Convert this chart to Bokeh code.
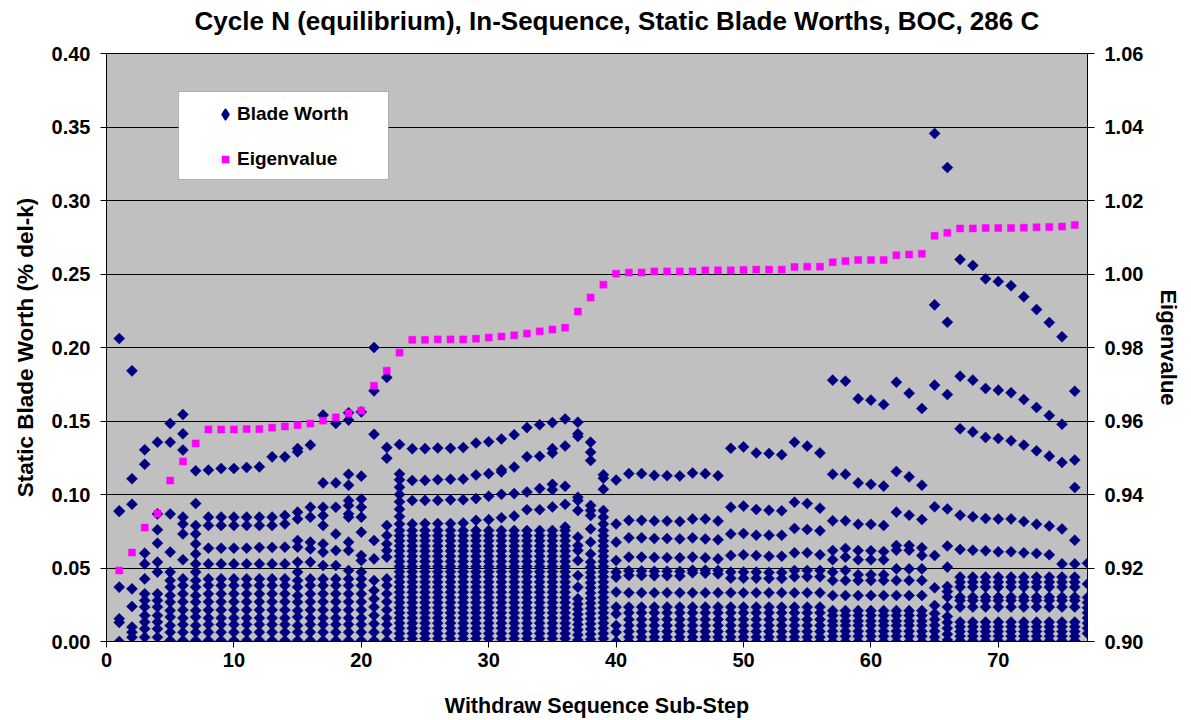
import math
from bokeh.plotting import figure
from bokeh.models import (Range1d, LinearAxis, FixedTicker, PrintfTickFormatter,
                          Legend, LegendItem, BoxAnnotation, ColumnDataSource, Label)
from bokeh.embed import file_html
from bokeh.resources import INLINE

# ---------------- data ----------------
title_text = "Cycle N (equilibrium), In-Sequence, Static Blade Worths, BOC,  286 C"
x_ticks = [0, 10, 20, 30, 40, 50, 60, 70]
left_ticks = [0.00, 0.05, 0.10, 0.15, 0.20, 0.25, 0.30, 0.35, 0.40]
right_ticks = [0.90, 0.92, 0.94, 0.96, 0.98, 1.00, 1.02, 1.04, 1.06]

eigen_steps = list(range(1, 77))
eigenvalue = [0.9193, 0.9242, 0.9310, 0.9348, 0.9438, 0.9490, 0.9539, 0.9577, 0.9577, 0.9577,
              0.9578, 0.9578, 0.9582, 0.9585, 0.9589, 0.9593, 0.9601, 0.9610, 0.9621, 0.9628,
              0.9696, 0.9737, 0.9786, 0.9821, 0.9821, 0.9822, 0.9822, 0.9822, 0.9824, 0.9827,
              0.9830, 0.9833, 0.9838, 0.9844, 0.9849, 0.9854, 0.9898, 0.9936, 0.9971, 1.0001,
              1.0004, 1.0004, 1.0007, 1.0007, 1.0007, 1.0007, 1.0010, 1.0010, 1.0010, 1.0011,
              1.0012, 1.0012, 1.0012, 1.0019, 1.0020, 1.0020, 1.0032, 1.0035, 1.0038, 1.0038,
              1.0038, 1.0051, 1.0053, 1.0055, 1.0104, 1.0112, 1.0124, 1.0124, 1.0125, 1.0125,
              1.0125, 1.0126, 1.0127, 1.0128, 1.0129, 1.0133]

# dense low clusters shared by several sub-steps
tail_a = [0.0324, 0.0279, 0.0234, 0.0177, 0.0132, 0.0086, 0.0029]
tail_b = [0.0426, 0.0381, 0.0324, 0.0270, 0.0215, 0.0160, 0.0115, 0.0063, 0.0007]
tail_c = [0.0472, 0.0415, 0.0370, 0.0313, 0.0268, 0.0211, 0.0166, 0.0109, 0.0063, 0.0007]
tail_d = [0.0755, 0.0720, 0.0685, 0.0650, 0.0615, 0.0580, 0.0545, 0.0510, 0.0475, 0.0440,
          0.0405, 0.0370, 0.0335, 0.0300, 0.0265, 0.0230, 0.0195, 0.0160, 0.0125, 0.0090,
          0.0055, 0.0020]
tail_e = [0.0331, 0.0234, 0.0195, 0.0150, 0.0109, 0.0068, 0.0030, 0.0000]
tail_f = [0.0313, 0.0210, 0.0177, 0.0140, 0.0109, 0.0070, 0.0035, 0.0000]
tail_g = [0.0438, 0.0404, 0.0370, 0.0302, 0.0279, 0.0234, 0.0132, 0.0100, 0.0068, 0.0036, 0.0005]

worth_steps_01_10 = [
    [0.2061, 0.0889, 0.0884, 0.0370, 0.0155, 0.0130, 0.0000],
    [0.1841, 0.1107, 0.0934, 0.0358, 0.0238, 0.0098, 0.0063, 0.0029],
    [0.1304, 0.1206, 0.0601, 0.0528, 0.0426] + tail_a,
    [0.1356, 0.0868, 0.0760, 0.0669, 0.0540, 0.0472] + tail_a,
    [0.1483, 0.1356, 0.0868, 0.0608] + tail_c,
    [0.1544, 0.1413, 0.1302, 0.0846, 0.0800, 0.0732, 0.0556] + tail_b,
    [0.1161, 0.0939, 0.0789, 0.0732, 0.0664, 0.0596, 0.0528] + tail_c,
    [0.1166, 0.0846, 0.0789, 0.0635, 0.0528] + tail_b,
    [0.1177, 0.0846, 0.0789, 0.0635, 0.0528] + tail_b,
    [0.1177, 0.0846, 0.0789, 0.0635, 0.0528] + tail_b,
]
worth_steps_11_20 = [
    [0.1184, 0.0846, 0.0789, 0.0635, 0.0528] + tail_b,
    [0.1188, 0.0846, 0.0789, 0.0640, 0.0528] + tail_b,
    [0.1256, 0.0846, 0.0789, 0.0640, 0.0528] + tail_b,
    [0.1256, 0.0857, 0.0800, 0.0642, 0.0528] + tail_b,
    [0.1313, 0.1290, 0.0880, 0.0834, 0.0687, 0.0642, 0.0540] + tail_c,
    [0.1336, 0.0914, 0.0846, 0.0676, 0.0630, 0.0540] + tail_b,
    [0.1540, 0.1079, 0.0914, 0.0857, 0.0789, 0.0664, 0.0608, 0.0517] + tail_b,
    [0.1483, 0.1079, 0.0914, 0.0732, 0.0619, 0.0517] + tail_b,
    [0.1556, 0.1506, 0.1138, 0.1063, 0.0959, 0.0925, 0.0868, 0.0846, 0.0676, 0.0619, 0.0483] + tail_b,
    [0.1562, 0.1125, 0.0970, 0.0914, 0.0846, 0.0744, 0.0585, 0.0551, 0.0472] + tail_b,
]
worth_steps_21_30 = [
    [0.2000, 0.1705, 0.1410, 0.0687, 0.0562, 0.0415, 0.0347, 0.0290, 0.0234, 0.0177, 0.0120, 0.0063, 0.0007],
    [0.1796, 0.1320, 0.1247, 0.0789, 0.0721, 0.0664, 0.0619, 0.0574] + tail_b,
    [0.1340, 0.1140, 0.1100, 0.1050, 0.1000, 0.0950, 0.0900, 0.0850, 0.0800] + tail_d,
    [0.1311, 0.1095, 0.0959, 0.0800] + tail_d,
    [0.1312, 0.1096, 0.0960, 0.0802] + tail_d,
    [0.1316, 0.1101, 0.0960, 0.0802] + tail_d,
    [0.1314, 0.1103, 0.0964, 0.0802] + tail_d,
    [0.1319, 0.1105, 0.0964, 0.0806] + tail_d,
    [0.1350, 0.1133, 0.0972, 0.0824] + tail_d,
    [0.1359, 0.1142, 0.0988, 0.0829] + tail_d,
]
worth_steps_31_40 = [
    [0.1378, 0.1169, 0.1153, 0.1001, 0.0842] + tail_d,
    [0.1407, 0.1187, 0.1006, 0.0854] + tail_d,
    [0.1455, 0.1257, 0.1017, 0.0897] + tail_d,
    [0.1475, 0.1260, 0.1040, 0.0897] + tail_d,
    [0.1489, 0.1312, 0.1282, 0.1069, 0.1033, 0.0915] + tail_d,
    [0.1514, 0.1330, 0.1056, 0.0933, 0.0779] + tail_d,
    [0.1492, 0.1413, 0.1395, 0.0982, 0.0960, 0.0891, 0.0710, 0.0653, 0.0619, 0.0551, 0.0449,
     0.0370, 0.0290, 0.0255, 0.0220, 0.0185, 0.0150, 0.0115, 0.0080, 0.0045, 0.0010],
    [0.1356, 0.1288, 0.1231, 0.0925, 0.0891, 0.0857, 0.0766, 0.0676, 0.0596, 0.0540, 0.0505,
     0.0470, 0.0435, 0.0400, 0.0365, 0.0330, 0.0295, 0.0260, 0.0225, 0.0190, 0.0155, 0.0120,
     0.0085, 0.0050, 0.0015],
    [0.1134, 0.1111, 0.1036, 0.0891, 0.0846, 0.0800] + tail_d,
    [0.1098, 0.0800, 0.0676, 0.0551, 0.0472, 0.0438, 0.0336, 0.0234, 0.0188, 0.0109, 0.0063, 0.0000],
]
worth_steps_41_50 = [
    [0.1142, 0.0824, 0.0705, 0.0574, 0.0480, 0.0449] + tail_e,
    [0.1142, 0.0824, 0.0705, 0.0574, 0.0480, 0.0449] + tail_e,
    [0.1130, 0.0820, 0.0700, 0.0572, 0.0478, 0.0447] + tail_e,
    [0.1128, 0.0819, 0.0700, 0.0570, 0.0478, 0.0447] + tail_e,
    [0.1126, 0.0816, 0.0698, 0.0569, 0.0476, 0.0445] + tail_e,
    [0.1146, 0.0834, 0.0705, 0.0574, 0.0485, 0.0467] + tail_e,
    [0.1142, 0.0834, 0.0698, 0.0569, 0.0485, 0.0465] + tail_e,
    [0.1128, 0.0819, 0.0692, 0.0562, 0.0483, 0.0460] + tail_e,
    [0.1314, 0.0914, 0.0732, 0.0585, 0.0472, 0.0431] + tail_e,
    [0.1324, 0.0921, 0.0735, 0.0590, 0.0472, 0.0431] + tail_e,
]
worth_steps_51_60 = [
    [0.1283, 0.0898, 0.0723, 0.0585, 0.0472, 0.0431] + tail_e,
    [0.1279, 0.0893, 0.0723, 0.0580, 0.0470, 0.0429] + tail_e,
    [0.1270, 0.0889, 0.0723, 0.0580, 0.0470, 0.0429] + tail_e,
    [0.1356, 0.0948, 0.0769, 0.0603, 0.0483, 0.0440] + tail_e,
    [0.1329, 0.0939, 0.0762, 0.0603, 0.0483, 0.0440] + tail_e,
    [0.1283, 0.0907, 0.0753, 0.0590, 0.0483, 0.0440] + tail_e,
    [0.1778, 0.1138, 0.0821, 0.0619, 0.0556, 0.0472, 0.0415] + tail_f,
    [0.1771, 0.1138, 0.0821, 0.0633, 0.0574, 0.0483, 0.0415] + tail_f,
    [0.1651, 0.1079, 0.0798, 0.0619, 0.0556, 0.0454, 0.0415] + tail_f,
    [0.1642, 0.1070, 0.0798, 0.0617, 0.0556, 0.0454, 0.0415] + tail_f,
]
worth_steps_61_70 = [
    [0.1612, 0.1057, 0.0789, 0.0612, 0.0556, 0.0454, 0.0415] + tail_f,
    [0.1764, 0.1156, 0.0880, 0.0653, 0.0621, 0.0494, 0.0415] + tail_f,
    [0.1689, 0.1120, 0.0859, 0.0653, 0.0621, 0.0494, 0.0415] + tail_f,
    [0.1585, 0.1063, 0.0830, 0.0637, 0.0585, 0.0494, 0.0415] + tail_f,
    [0.3456, 0.2290, 0.1744, 0.0916, 0.0585, 0.0365, 0.0245, 0.0190, 0.0150, 0.0110, 0.0070, 0.0030, 0.0000],
    [0.3224, 0.2172, 0.1680, 0.0902, 0.0649, 0.0506, 0.0374, 0.0340, 0.0302, 0.0234, 0.0170,
     0.0130, 0.0090, 0.0050, 0.0010],
    [0.2599, 0.1805, 0.1447, 0.0859, 0.0626] + tail_g,
    [0.2558, 0.1778, 0.1426, 0.0848, 0.0621] + tail_g,
    [0.2467, 0.1721, 0.1388, 0.0837, 0.0617] + tail_g,
    [0.2449, 0.1710, 0.1381, 0.0834, 0.0610] + tail_g,
]
worth_steps_71_77 = [
    [0.2420, 0.1692, 0.1365, 0.0834, 0.0610] + tail_g,
    [0.2345, 0.1646, 0.1336, 0.0816, 0.0603] + tail_g,
    [0.2258, 0.1592, 0.1297, 0.0798, 0.0599] + tail_g,
    [0.2170, 0.1537, 0.1261, 0.0785, 0.0590] + tail_g,
    [0.2073, 0.1478, 0.1218, 0.0766, 0.0528] + tail_g,
    [0.1703, 0.1234, 0.1048, 0.0689, 0.0528] + tail_g,
    [0.0533, 0.0392, 0.0300, 0.0265, 0.0230, 0.0195, 0.0160, 0.0125, 0.0090, 0.0055],
]

all_steps = (worth_steps_01_10 + worth_steps_11_20 + worth_steps_21_30 + worth_steps_31_40 +
             worth_steps_41_50 + worth_steps_51_60 + worth_steps_61_70 + worth_steps_71_77)
bw_x, bw_y = [], []
for i, vals in enumerate(all_steps):
    bw_x += [i + 1] * len(vals)
    bw_y += vals

# ---------------- figure ----------------
FONT = "Liberation Sans"
NAVY = "#000080"
MAGENTA = "#FF00FF"

p = figure(width=1191, height=720, output_backend="svg", toolbar_location=None,
           x_range=Range1d(0, 77), y_range=Range1d(0, 0.40),
           min_border_left=106, min_border_right=104, min_border_top=53, min_border_bottom=79,
           background_fill_color="#C0C0C0", border_fill_color="white")
p.outline_line_color = "black"

# chart title as a label in the top side panel
title_lbl = Label(x=514, y=33, x_units="screen", y_units="screen", text=title_text,
                  text_align="center", text_baseline="middle",
                  text_font=FONT, text_font_size="26px", text_font_style="bold",
                  text_color="black")
p.add_layout(title_lbl, "above")

def style_axis(ax, label, ticks, label_size):
    ax.axis_label = label
    ax.ticker = FixedTicker(ticks=ticks)
    ax.axis_label_text_font = FONT
    ax.axis_label_text_font_size = label_size
    ax.axis_label_text_font_style = "bold"
    ax.axis_label_text_color = "black"
    ax.major_label_text_font = FONT
    ax.major_label_text_font_size = "20px"
    ax.major_label_text_font_style = "bold"
    ax.major_label_text_color = "black"
    ax.axis_line_color = "black"
    ax.major_tick_line_color = "black"
    ax.major_tick_out = 6
    ax.major_tick_in = 0
    ax.minor_tick_line_color = None

xa = p.xaxis[0]
style_axis(xa, "Withdraw Sequence Sub-Step", x_ticks, "21.5px")
xa.major_label_standoff = 5
xa.axis_label_standoff = 24

ya = p.yaxis[0]
style_axis(ya, "Static Blade Worth (% del-k)", left_ticks, "22.5px")
ya.formatter = PrintfTickFormatter(format="%.2f")
ya.major_label_standoff = 10
ya.axis_label_standoff = 11

p.extra_y_ranges = {"eig": Range1d(0.90, 1.06)}
ra = LinearAxis(y_range_name="eig")
style_axis(ra, "Eigenvalue", right_ticks, "22px")
ra.formatter = PrintfTickFormatter(format="%.2f")
ra.major_tick_in = 7
ra.major_tick_out = 7
ra.major_label_standoff = 10
ra.axis_label_standoff = 10
p.add_layout(ra, "right")

p.xgrid.visible = False
p.ygrid.ticker = FixedTicker(ticks=left_ticks)
p.ygrid.grid_line_color = "black"
p.ygrid.grid_line_width = 1

bw_src = ColumnDataSource(dict(x=bw_x, y=bw_y))
r_bw = p.scatter("x", "y", source=bw_src, marker="square", angle=math.pi / 4, size=7.8,
                 fill_color=NAVY, line_color=NAVY, line_width=0.5)
eig_src = ColumnDataSource(dict(x=eigen_steps, y=eigenvalue))
r_eig = p.scatter("x", "y", source=eig_src, y_range_name="eig", marker="square", size=7,
                  fill_color=MAGENTA, line_color=MAGENTA, line_width=0.5)

# legend-key renderers: one NaN point each, so nothing shows in the plot,
# but the key can draw a diamond and a small square
nan = float("nan")
key_bw = p.scatter(x=[nan], y=[nan], marker="diamond", size=10,
                   fill_color=NAVY, line_color=NAVY, line_width=2.2, line_join="round")
key_eig = p.scatter(x=[nan], y=[nan], marker="square", size=10,
                    fill_color=MAGENTA, line_color="white", line_width=2)

# legend box
box = BoxAnnotation(left=72, right=282, top=550, bottom=462,
                    left_units="screen", right_units="screen", top_units="screen", bottom_units="screen",
                    fill_color="white", fill_alpha=1.0, line_color="#404040", line_width=1)
p.add_layout(box)

legend = Legend(items=[LegendItem(label="Blade Worth", renderers=[key_bw]),
                       LegendItem(label="Eigenvalue", renderers=[key_eig])],
                location=(107, 470), orientation="vertical",
                background_fill_alpha=0, border_line_color=None,
                padding=0, margin=0, spacing=21,
                glyph_width=24, glyph_height=24, label_height=24, label_standoff=0,
                label_text_font=FONT, label_text_font_size="19px", label_text_font_style="bold",
                label_text_color="black")
p.add_layout(legend)

open("out.html", "w").write(file_html(p, INLINE))
